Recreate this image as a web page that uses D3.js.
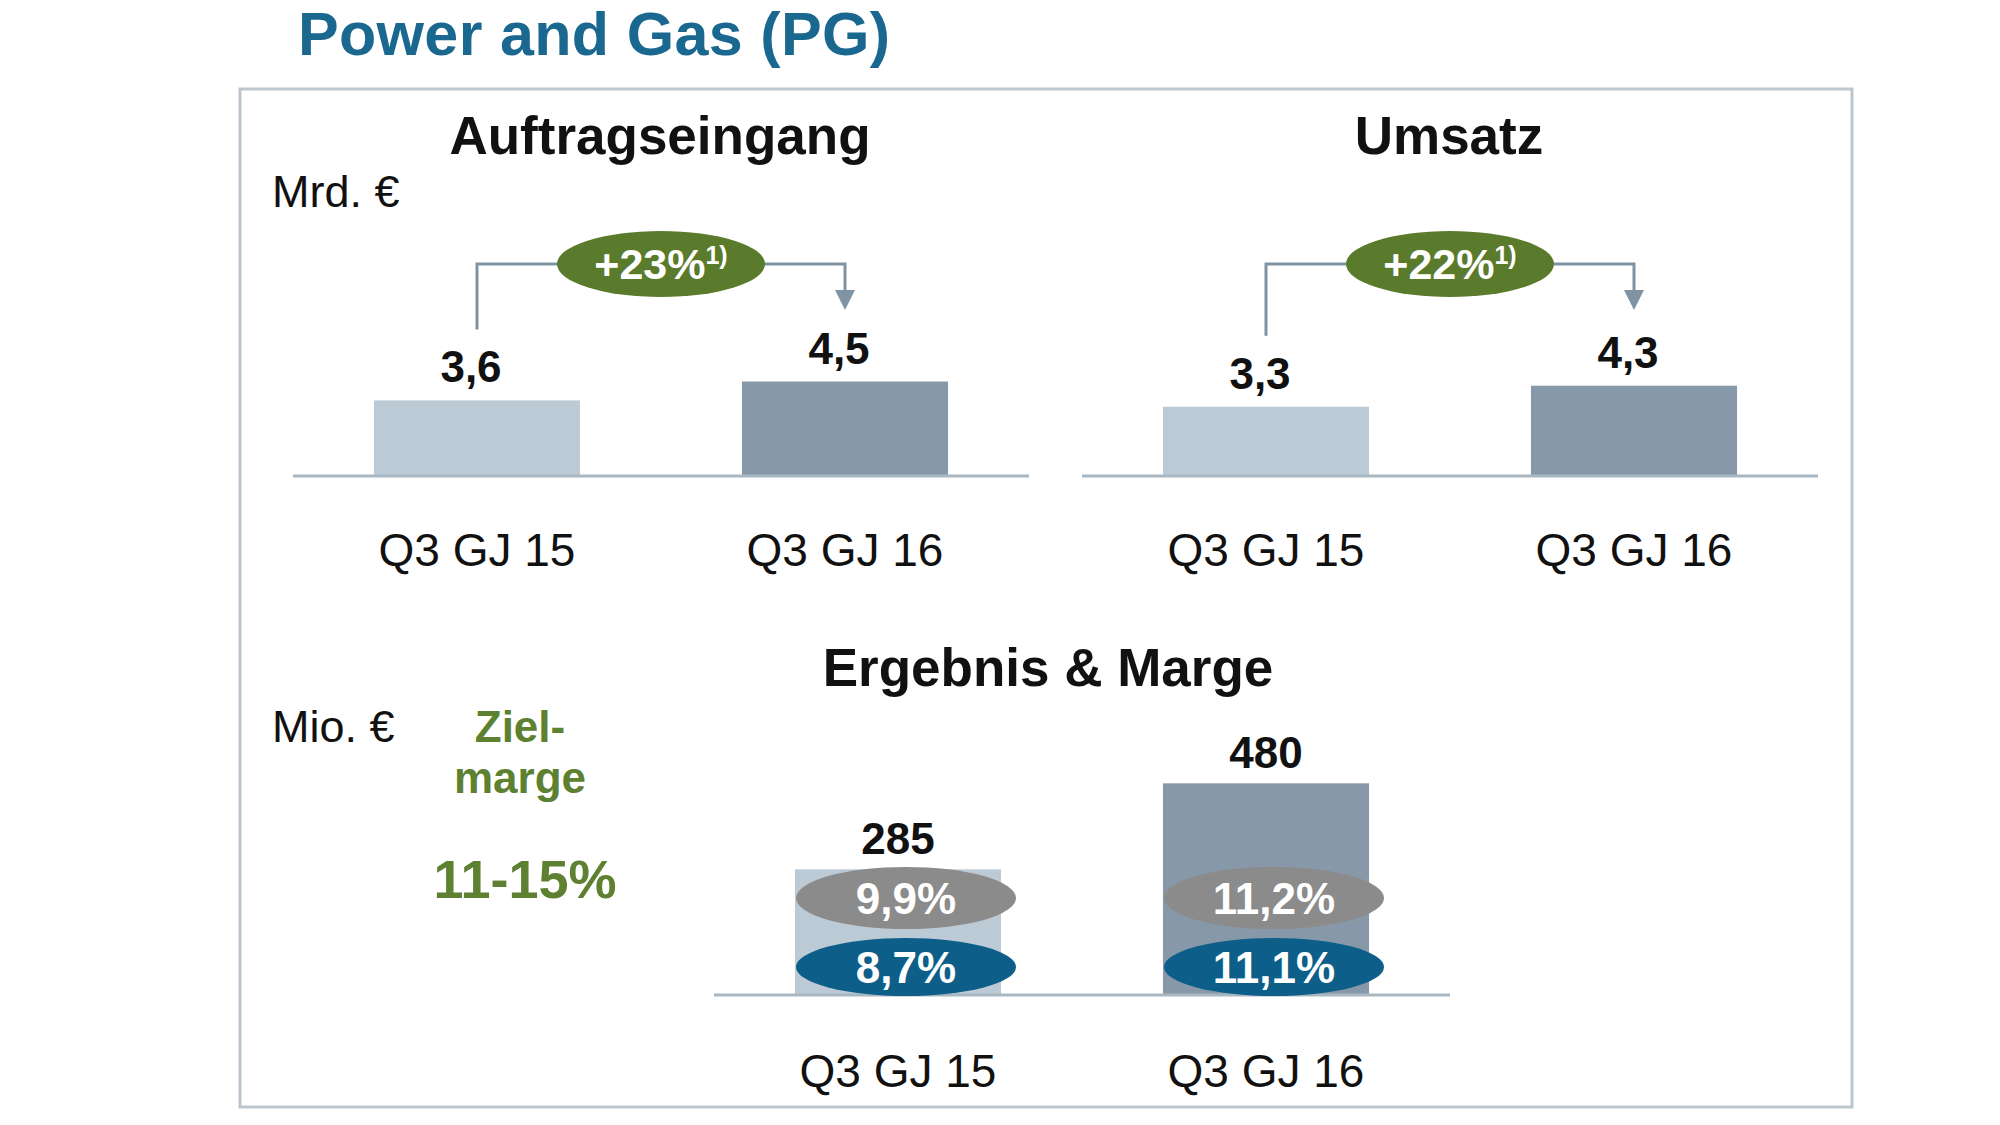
<!DOCTYPE html>
<html>
<head>
<meta charset="utf-8">
<script src="https://cdn.jsdelivr.net/npm/d3@7"></script>
<style>
  body { margin: 0; background: #fff; }
  text { font-family: "Liberation Sans", Arial, sans-serif; }
</style>
</head>
<body>
<div id="chart"></div>
<script>
var categories = ["Q3 GJ 15", "Q3 GJ 16"]
var orders = [3.6, 4.5]
var orderLabels = ["3,6", "4,5"]
var revenue = [3.3, 4.3]
var revenueLabels = ["3,3", "4,3"]
var growth = ["+23%", "+22%"]
var profit = [285, 480]
var marginTop = ["9,9%", "11,2%"]
var marginBottom = ["8,7%", "11,1%"]

var W = 2000, H = 1125
var svg = d3.select('#chart').append('svg').attr('width', W).attr('height', H)

var lightBar = '#bccad5', darkBar = '#8798a8', axisCol = '#a9b7c2'
var green = '#5b7b2c', lineCol = '#7f93a3'

// title + frame
svg.append('text').attr('x', 298).attr('y', 55)
    .attr('font-size', 61).attr('font-weight', 'bold').attr('fill', '#1a6890')
    .attr('textLength', 592)
    .text('Power and Gas (PG)')

svg.append('rect').attr('x', 240).attr('y', 89).attr('width', 1612).attr('height', 1018)
    .attr('fill', 'none').attr('stroke', '#bcc6ce').attr('stroke-width', 3)

function band(x0) {
    return d3.scaleBand().domain(categories).range([x0, x0 + 736])
        .paddingInner(0.44).paddingOuter(0.22)
}

// small bar panel with growth bracket
function renderTop(x0, title, values, labels, pct) {
    var x = band(x0)
    var y = d3.scaleLinear().domain([0, 5]).range([476, 371])
    var g = svg.append('g')
    var rows = categories.map(function(c, i) { return {cat: c, v: values[i], lab: labels[i]} })

    g.append('text').attr('x', x0 + 367).attr('y', 154).attr('text-anchor', 'middle')
        .attr('font-size', 53).attr('font-weight', 'bold').attr('fill', '#111').text(title)

    g.selectAll('rect').data(rows).enter().append('rect')
        .attr('x', function(d) { return x(d.cat) })
        .attr('y', function(d) { return y(d.v) })
        .attr('width', x.bandwidth())
        .attr('height', function(d) { return y(0) - y(d.v) })
        .attr('fill', function(d, i) { return i == 0 ? lightBar : darkBar })

    g.append('line').attr('x1', x0).attr('x2', x0 + 736).attr('y1', y(0)).attr('y2', y(0))
        .attr('stroke', axisCol).attr('stroke-width', 3)

    g.selectAll('.val').data(rows).enter().append('text')
        .attr('x', function(d) { return x(d.cat) + x.bandwidth() / 2 - 6 })
        .attr('y', function(d) { return y(d.v) - 18 })
        .attr('text-anchor', 'middle').attr('font-size', 44).attr('font-weight', 'bold')
        .attr('fill', '#111').text(function(d) { return d.lab })

    g.selectAll('.cat').data(rows).enter().append('text')
        .attr('x', function(d) { return x(d.cat) + x.bandwidth() / 2 })
        .attr('y', 566).attr('text-anchor', 'middle').attr('font-size', 46)
        .attr('fill', '#111').text(function(d) { return d.cat })

    // bracket
    var cx1 = x(categories[0]) + x.bandwidth() / 2
    var cx2 = x(categories[1]) + x.bandwidth() / 2
    var by = 264
    var startY = y(values[0]) - 18 - 53
    var tipY = 310
    g.append('path')
        .attr('d', 'M' + cx1 + ',' + startY + 'V' + by + 'H' + cx2 + 'V' + (tipY - 18))
        .attr('fill', 'none').attr('stroke', lineCol).attr('stroke-width', 3)
    g.append('path')
        .attr('d', 'M' + (cx2 - 10) + ',' + (tipY - 20) + 'L' + (cx2 + 10) + ',' + (tipY - 20) + 'L' + cx2 + ',' + tipY + 'Z')
        .attr('fill', lineCol)

    var ex = (cx1 + cx2) / 2
    g.append('ellipse').attr('cx', ex).attr('cy', by).attr('rx', 104).attr('ry', 33).attr('fill', green)
    var t = g.append('text').attr('x', ex).attr('y', by + 15).attr('text-anchor', 'middle')
        .attr('font-size', 43).attr('font-weight', 'bold').attr('fill', '#fff')
    t.append('tspan').text(pct)
    t.append('tspan').attr('font-size', 25).attr('dy', -15).text('1)')
}

renderTop(293, 'Auftragseingang', orders, orderLabels, growth[0])
renderTop(1082, 'Umsatz', revenue, revenueLabels, growth[1])

svg.append('text').attr('x', 272).attr('y', 207).attr('font-size', 45).attr('fill', '#111').text('Mrd. €')

// bottom panel
var xb = band(714)
var yb = d3.scaleLinear().domain([0, 500]).range([995, 774.5])
var gb = svg.append('g')
var rowsB = categories.map(function(c, i) { return {cat: c, v: profit[i], m1: marginTop[i], m2: marginBottom[i]} })

gb.append('text').attr('x', 1048).attr('y', 686).attr('text-anchor', 'middle')
    .attr('font-size', 53).attr('font-weight', 'bold').attr('fill', '#111').text('Ergebnis & Marge')

svg.append('text').attr('x', 272).attr('y', 742).attr('font-size', 45).attr('fill', '#111').text('Mio. €')
svg.append('text').attr('x', 520).attr('y', 742).attr('text-anchor', 'middle').attr('font-size', 44)
    .attr('font-weight', 'bold').attr('fill', '#5e8131').text('Ziel-')
svg.append('text').attr('x', 520).attr('y', 793).attr('text-anchor', 'middle').attr('font-size', 44)
    .attr('font-weight', 'bold').attr('fill', '#5e8131').text('marge')
svg.append('text').attr('x', 525).attr('y', 898).attr('text-anchor', 'middle').attr('font-size', 54)
    .attr('font-weight', 'bold').attr('fill', '#5e8131').text('11-15%')

gb.selectAll('rect').data(rowsB).enter().append('rect')
    .attr('x', function(d) { return xb(d.cat) })
    .attr('y', function(d) { return yb(d.v) })
    .attr('width', xb.bandwidth())
    .attr('height', function(d) { return yb(0) - yb(d.v) })
    .attr('fill', function(d, i) { return i == 0 ? lightBar : darkBar })

gb.append('line').attr('x1', 714).attr('x2', 1450).attr('y1', yb(0)).attr('y2', yb(0))
    .attr('stroke', axisCol).attr('stroke-width', 3)

gb.selectAll('.val').data(rowsB).enter().append('text')
    .attr('x', function(d) { return xb(d.cat) + xb.bandwidth() / 2 })
    .attr('y', function(d) { return yb(d.v) - 15 })
    .attr('text-anchor', 'middle').attr('font-size', 44).attr('font-weight', 'bold')
    .attr('fill', '#111').text(function(d) { return d.v })

var pills = [{key: 'm1', cy: 898, ry: 31, fill: '#8b8b8b'}, {key: 'm2', cy: 967, ry: 29, fill: '#0d5f8a'}]
pills.forEach(function(p) {
    gb.selectAll('.e' + p.key).data(rowsB).enter().append('ellipse')
        .attr('cx', function(d) { return xb(d.cat) + xb.bandwidth() / 2 + 8 })
        .attr('cy', p.cy).attr('rx', 110).attr('ry', p.ry).attr('fill', p.fill)
    gb.selectAll('.t' + p.key).data(rowsB).enter().append('text')
        .attr('x', function(d) { return xb(d.cat) + xb.bandwidth() / 2 + 8 })
        .attr('y', p.cy + 16).attr('text-anchor', 'middle')
        .attr('font-size', 44).attr('font-weight', 'bold').attr('fill', '#fff')
        .text(function(d) { return d[p.key] })
})

gb.selectAll('.cat').data(rowsB).enter().append('text')
    .attr('x', function(d) { return xb(d.cat) + xb.bandwidth() / 2 })
    .attr('y', 1087).attr('text-anchor', 'middle').attr('font-size', 46)
    .attr('fill', '#111').text(function(d) { return d.cat })
</script>
</body>
</html>
